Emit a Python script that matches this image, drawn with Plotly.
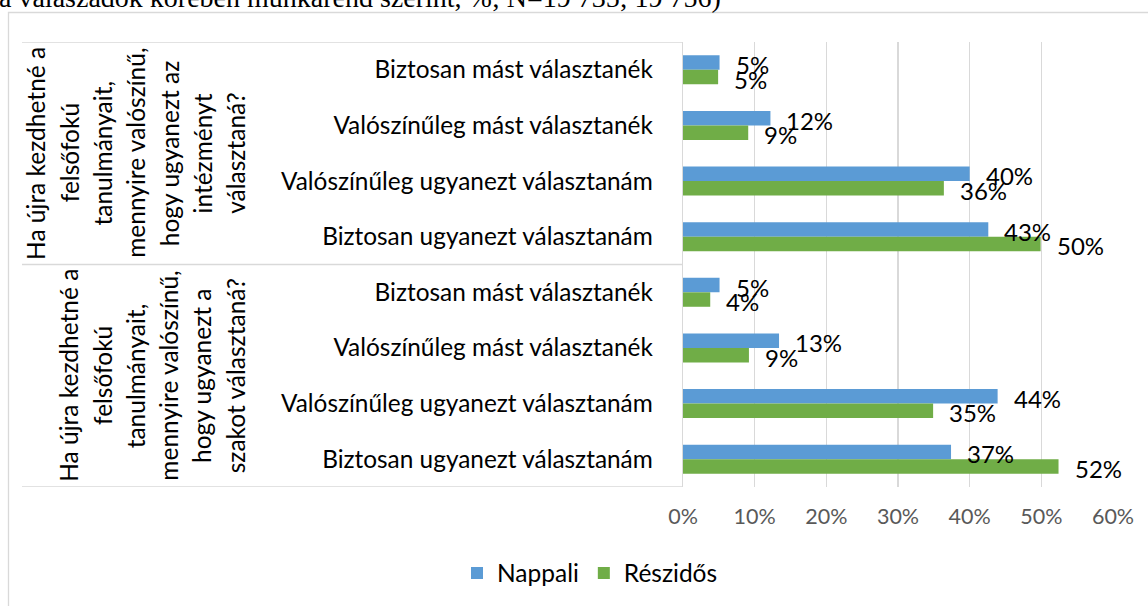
import plotly.graph_objects as go

W, H = 1148, 606
OFF = 0  # body margin removed via post_script

categories = ["Biztosan mást választanék", "Valószínűleg mást választanék",
              "Valószínűleg ugyanezt választanám", "Biztosan ugyanezt választanám"]
group_intezmeny = ["Ha újra kezdhetné a", "felsőfokú", "tanulmányait,", "mennyire valószínű,",
                   "hogy ugyanezt az", "intézményt", "választaná?"]
group_szak = ["Ha újra kezdhetné a", "felsőfokú", "tanulmányait,", "mennyire valószínű,",
              "hogy ugyanezt a", "szakot választaná?"]

nappali_intezmeny = [5.1, 12.2, 40.0, 42.6]
reszidos_intezmeny = [4.9, 9.1, 36.4, 49.9]
nappali_szak = [5.1, 13.4, 43.9, 37.4]
reszidos_szak = [3.8, 9.2, 34.9, 52.4]

x_ticks = [0, 10, 20, 30, 40, 50, 60]
x_ticktext = [f"{t}%" for t in x_ticks]
title_text = "a válaszadók körében munkarend szerint, %; N=19 735; 19 756)"

BLUE = "#5b9bd5"
GREEN = "#70ad47"
GRID = "#d9d9d9"
FONT = "Lato"

ticktext = categories + categories
ypos = list(range(len(ticktext)))
nappali = nappali_intezmeny + nappali_szak
reszidos = reszidos_intezmeny + reszidos_szak


def px_x(p):
    return (p - OFF) / W


def px_y(p):
    return 1 - (p - OFF) / H


fig = go.Figure()
fig.add_trace(go.Bar(y=ypos, x=nappali, orientation="h", name="Nappali",
                     marker=dict(color=BLUE, line=dict(width=0))))
fig.add_trace(go.Bar(y=ypos, x=reszidos, orientation="h", name="Részidős",
                     marker=dict(color=GREEN, line=dict(width=0))))

bargap = 0.48
half = (1 - bargap) / 4.0

annotations = []
# data labels
for vals, sign in ((nappali, -1), (reszidos, 1)):
    for i, v in enumerate(vals):
        annotations.append(dict(x=v, y=i + sign * half, xref="x", yref="y",
                                text=f"{v:.0f}%", showarrow=False, xanchor="left",
                                yanchor="middle", xshift=14, yshift=-2,
                                font=dict(family=FONT, size=24, color="black")))

# rotated group labels
for lines, center in ((group_intezmeny, 1.5), (group_szak, 5.5)):
    n = len(lines)
    for i, line in enumerate(lines):
        xp = 235.5 - (n - 1 - i) * 33.3
        annotations.append(dict(x=px_x(xp), y=center, xref="paper", yref="y",
                                text=line, textangle=-90, showarrow=False,
                                xanchor="center", yanchor="middle", yshift=0,
                                font=dict(family=FONT, size=24.5, color="black")))

# clipped title line at top
annotations.append(dict(x=px_x(-2), y=px_y(14), xref="paper", yref="paper",
                        text=title_text, showarrow=False, xanchor="left", yanchor="bottom",
                        borderpad=0,
                        font=dict(family="Liberation Serif", size=28, color="black")))

shapes = []
# table lines of the category area
for yv in (-0.5, 3.5, 7.5):
    shapes.append(dict(type="line", xref="paper", yref="y", x0=px_x(22), x1=px_x(683),
                       y0=yv, y1=yv, line=dict(color=GRID, width=1.3)))
# chart frame
shapes.append(dict(type="rect", xref="paper", yref="paper", x0=px_x(8.5), x1=1.05,
                   y0=-0.05, y1=px_y(12.5), line=dict(color=GRID, width=1.3),
                   fillcolor="rgba(0,0,0,0)"))

fig.update_layout(
    width=W, height=H,
    margin=dict(l=0, r=0, t=0, b=0, autoexpand=False),
    paper_bgcolor="white", plot_bgcolor="white",
    barmode="group", bargap=bargap, bargroupgap=0,
    font=dict(family=FONT, color="black"),
    xaxis=dict(domain=[px_x(683), px_x(1113)], range=[0, 60], tickmode="array",
               tickvals=x_ticks, ticktext=x_ticktext, automargin=False,
               showgrid=True, gridcolor=GRID, gridwidth=1.3,
               zeroline=False, showline=False, ticks="",
               tickfont=dict(family=FONT, size=21.5, color="#595959"),
               ticklabelstandoff=14, fixedrange=True),
    yaxis=dict(domain=[px_y(487), px_y(42)], tickmode="array", tickvals=ypos,
               ticktext=ticktext, range=[len(ypos) - 0.5, -0.5], showgrid=False,
               automargin=False,
               zeroline=False, showline=True, linecolor=GRID, linewidth=1.3, ticks="",
               tickfont=dict(family=FONT, size=24.4, color="black"),
               ticklabelstandoff=24, fixedrange=True),
    legend=dict(orientation="h", x=px_x(590), y=px_y(573), xanchor="center",
                yanchor="middle", font=dict(family=FONT, size=24.5, color="black"),
                itemwidth=30, traceorder="normal"),
    annotations=annotations,
    shapes=shapes,
    showlegend=True,
)

fig.write_html("out.html",
               config={"displayModeBar": False, "staticPlot": True},
               post_script="document.body.style.margin='0px';document.body.style.overflow='hidden';")
